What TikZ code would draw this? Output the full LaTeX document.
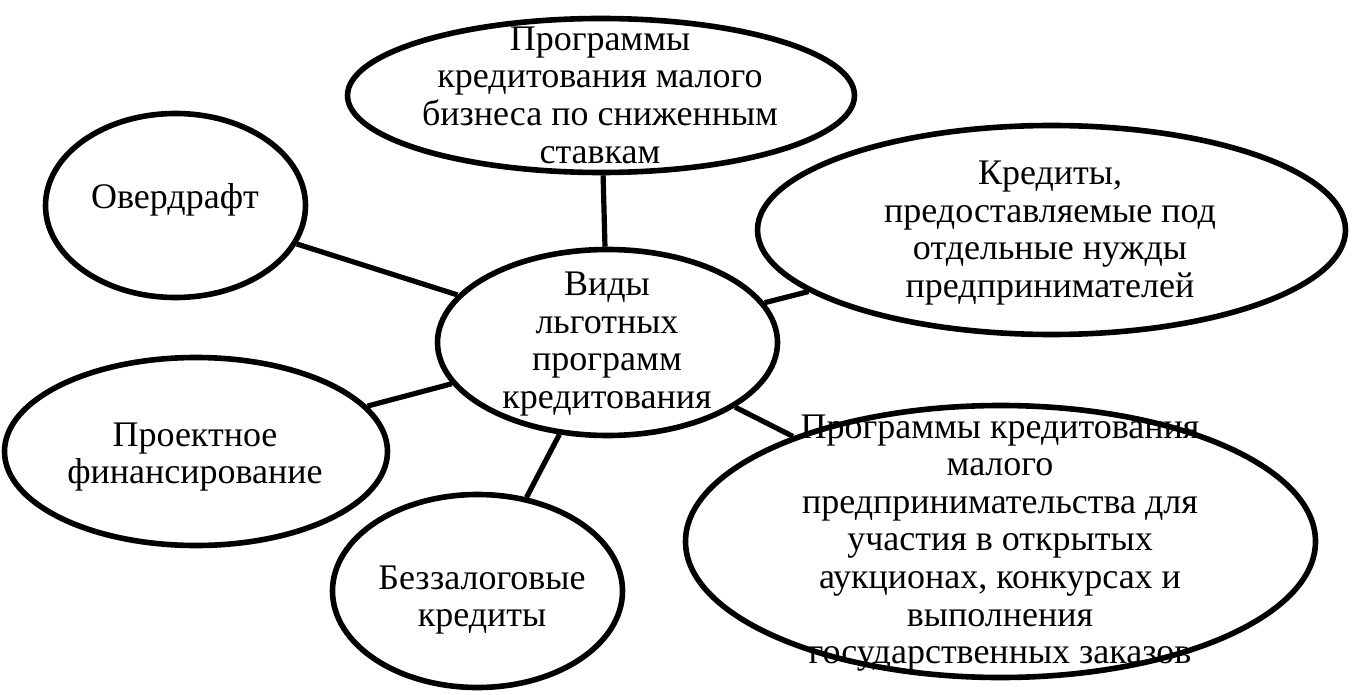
\documentclass[tikz,border=0pt]{standalone}
\usepackage{fontspec}
\setmainfont{Liberation Serif}
\usepackage{tikz}
\usetikzlibrary{shapes.geometric}
\tikzset{
    oval/.style={ellipse, draw, line width=2.8pt, inner sep=0pt},
    txt/.style={align=center, font=\fontsize{18}{18.8}\selectfont},
    lnk/.style={line width=2.6pt},
}
\begin{document}
\begin{tikzpicture}[x=0.5pt,y=-0.5pt]
    \useasboundingbox (0,0) rectangle (1353,695);
    \node[oval, minimum width=170pt,   minimum height=93pt]   (c)    at (607.5,342.5) {};
    \node[oval, minimum width=253.5pt, minimum height=77pt]   (top)  at (601,95.5)    {};
    \node[oval, minimum width=130pt,   minimum height=92pt]   (ovr)  at (175.5,205.5) {};
    \node[oval, minimum width=294pt,   minimum height=104.5pt](rt)   at (1051.5,230)  {};
    \node[oval, minimum width=191.5pt, minimum height=94pt]   (proj) at (196,451.5)   {};
    \node[oval, minimum width=145pt,   minimum height=96.5pt] (bezz) at (477.5,591)   {};
    \node[oval, minimum width=315pt,   minimum height=136pt]  (rb)   at (1000.5,541.5) {};

    \node[txt] (c-t)    at (607,344)  {Виды\\льготных\\программ\\кредитования};
    \node[txt] (top-t)  at (600,95)   {Программы\\кредитования малого\\бизнеса по сниженным\\ставкам};
    \node[txt] (ovr-t)  at (175,200)  {Овердрафт};
    \node[txt] (rt-t)   at (1050,233) {Кредиты,\\предоставляемые под\\отдельные нужды\\предпринимателей};
    \node[txt] (proj-t) at (195,457)  {Проектное\\финансирование};
    \node[txt] (bezz-t) at (482,600)  {Беззалоговые\\кредиты};
    \node[txt] (rb-t)   at (1000,543) {Программы кредитования\\малого\\предпринимательства для\\участия в открытых\\аукционах, конкурсах и\\выполнения\\государственных заказов};

    \draw[lnk] (c) -- (top);
    \draw[lnk] (c) -- (ovr);
    \draw[lnk] (c) -- (rt);
    \draw[lnk] (c) -- (proj);
    \draw[lnk] (c) -- (bezz);
    \draw[lnk] (c) -- (rb);
\end{tikzpicture}
\end{document}
